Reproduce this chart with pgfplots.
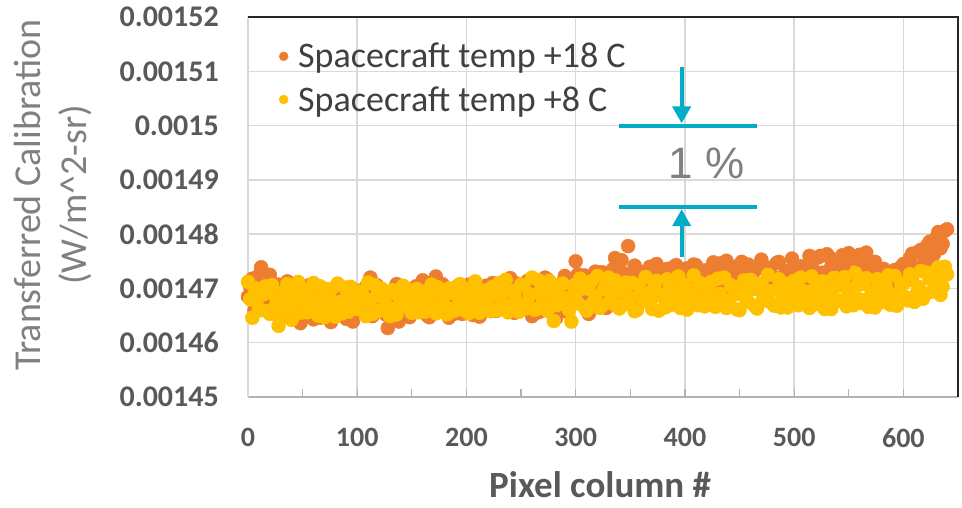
\documentclass[border=0pt]{standalone}
\usepackage{fontspec}
\setmainfont{Carlito}
\newfontfamily\arialfont{Liberation Sans}
\usepackage{pgfplots}
\pgfplotsset{compat=1.18}
\usetikzlibrary{arrows.meta}
\definecolor{sporange}{HTML}{ED7D31}
\definecolor{spgold}{HTML}{FFC000}
\definecolor{callout}{HTML}{00ACC8}
\definecolor{ticktext}{HTML}{595959}
\definecolor{labeltext}{HTML}{808080}
\definecolor{legendtext}{HTML}{404040}
\definecolor{gridgray}{HTML}{D9D9D9}

\begin{document}
\begin{tikzpicture}
\useasboundingbox (-248pt,-110pt) rectangle (714pt,397pt);
\begin{axis}[
  at={(0pt,0pt)}, anchor=south west,
  scale only axis, width=710pt, height=380pt,
  xmin=0, xmax=650, ymin=0.00145, ymax=0.00152,
  clip=false,
  xtick={0,100,...,600}, xticklabels={0,100,200,300,400,500,600},
  minor x tick num=1,
  ytick={0.00145,0.00146,0.00147,0.00148,0.00149,0.0015,0.00151,0.00152},
  yticklabels={0.00145,0.00146,0.00147,0.00148,0.00149,0.0015,0.00151,0.00152},
  scaled y ticks=false,
  axis x line*=bottom, axis y line*=left,
  x axis line style={draw=black!30, line width=1.5pt, -},
  y axis line style={draw=gridgray, line width=1.5pt, -},
  xtick align=inside,
  xtick style={draw=black!30, line width=1.2pt},
  minor x tick style={draw=black!30, line width=1.2pt},
  ytick style={draw=none},
  major tick length=8pt, minor tick length=8pt,
  grid=major, major grid style={gridgray, line width=1.5pt},
  tick label style={font=\fontsize{28}{32}\selectfont\bfseries, text=ticktext},
  yticklabel style={anchor=east, inner sep=0pt, xshift=-29pt, font=\fontsize{30}{34}\selectfont\bfseries},
  xticklabel style={anchor=north, inner sep=0pt, yshift=-31pt},
  xlabel={Pixel column \#},
  xlabel style={at={(axis description cs:0.496,0)}, anchor=center, yshift=-88pt,
    font=\fontsize{37}{42}\selectfont\bfseries, text=ticktext},
  ylabel={Transferred Calibration\\(W/m\textasciicircum 2-sr)},
  ylabel style={at={(axis description cs:-0.2746,0.5316)}, anchor=center, align=center,
    font=\fontsize{38}{46}\selectfont, text=labeltext},
  legend cell align=left,
  legend image code/.code={\draw[mark repeat=2,mark phase=2,#1,mark size=4.5pt] plot coordinates {(0pt,0pt) (9pt,0pt) (18pt,0pt)};},
  legend style={at={(axis description cs:0,1)}, anchor=north west, xshift=31pt, yshift=-24pt,
    draw=none, fill=none, font=\fontsize{36}{42}\selectfont, text=legendtext, inner sep=0pt,
    row sep=13pt, column sep=8pt},
]
\addplot[only marks, mark=*, mark size=7pt, mark options={draw=sporange, fill=sporange}] coordinates {
(0,0.0014685) (4,0.0014718) (8,0.0014662) (12,0.0014739) (16,0.0014690) (20,0.0014725) (24,0.0014654) (28,0.0014707)
(32,0.0014671) (36,0.0014713) (40,0.0014645) (44,0.0014694) (48,0.0014636) (52,0.0014678) (56,0.0014706) (60,0.0014643)
(64,0.0014689) (68,0.0014660) (72,0.0014698) (76,0.0014638) (80,0.0014673) (84,0.0014701) (88,0.0014652) (92,0.0014684)
(96,0.0014639) (100,0.0014696) (104,0.0014668) (108,0.0014703) (112,0.0014720) (116,0.0014687) (120,0.0014664) (124,0.0014692)
(128,0.0014627) (132,0.0014676) (136,0.0014708) (140,0.0014656) (144,0.0014683) (148,0.0014647) (152,0.0014699) (156,0.0014669)
(160,0.0014715) (164,0.0014650) (168,0.0014686) (172,0.0014722) (176,0.0014662) (180,0.0014691) (184,0.0014646) (188,0.0014680)
(192,0.0014704) (196,0.0014653) (200,0.0014688) (204,0.0014665) (208,0.0014709) (212,0.0014648) (216,0.0014693) (220,0.0014674)
(224,0.0014710) (228,0.0014659) (232,0.0014697) (236,0.0014668) (240,0.0014719) (244,0.0014655) (248,0.0014690) (252,0.0014672)
(256,0.0014714) (260,0.0014649) (264,0.0014698) (268,0.0014670) (272,0.0014720) (276,0.0014658) (280,0.0014702) (284,0.0014681)
(288,0.0014711) (292,0.0014657) (296,0.0014695) (300,0.0014750) (304,0.0014676) (308,0.0014724) (312,0.0014653) (316,0.0014703)
(320,0.0014682) (324,0.0014730) (328,0.0014664) (332,0.0014716) (336,0.0014756) (340,0.0014692) (344,0.0014728) (348,0.0014778)
(352,0.0014700) (356,0.0014735) (360,0.0014678) (364,0.0014719) (368,0.0014740) (372,0.0014694) (376,0.0014727) (380,0.0014685)
(384,0.0014736) (388,0.0014708) (392,0.0014743) (396,0.0014689) (400,0.0014725) (404,0.0014701) (408,0.0014744) (412,0.0014683)
(416,0.0014721) (420,0.0014706) (424,0.0014738) (428,0.0014690) (432,0.0014746) (436,0.0014712) (440,0.0014687) (444,0.0014732)
(448,0.0014704) (452,0.0014749) (456,0.0014695) (460,0.0014726) (464,0.0014700) (468,0.0014741) (472,0.0014688) (476,0.0014735)
(480,0.0014710) (484,0.0014747) (488,0.0014696) (492,0.0014729) (496,0.0014705) (500,0.0014743) (504,0.0014684) (508,0.0014731)
(512,0.0014709) (516,0.0014750) (520,0.0014718) (524,0.0014760) (528,0.0014724) (532,0.0014758) (536,0.0014702) (540,0.0014746)
(544,0.0014761) (548,0.0014715) (552,0.0014754) (556,0.0014728) (560,0.0014762) (564,0.0014719) (568,0.0014748) (572,0.0014707)
(576,0.0014739) (580,0.0014712) (584,0.0014730) (588,0.0014698) (592,0.0014734) (596,0.0014716) (600,0.0014745) (604,0.0014723)
(608,0.0014764) (612,0.0014738) (616,0.0014771) (620,0.0014749) (624,0.0014786) (628,0.0014763) (632,0.0014804) (636,0.0014782)
(640,0.0014809)
(2,0.0014703) (6,0.0014660) (10,0.0014724) (14,0.0014681) (18,0.0014715) (22,0.0014669) (26,0.0014698) (30,0.0014648)
(34,0.0014686) (38,0.0014709) (42,0.0014665) (46,0.0014691) (50,0.0014650) (54,0.0014682) (58,0.0014664) (62,0.0014702)
(66,0.0014646) (70,0.0014679) (74,0.0014653) (78,0.0014694) (82,0.0014661) (86,0.0014687) (90,0.0014644) (94,0.0014700)
(98,0.0014672) (102,0.0014657) (106,0.0014695) (110,0.0014675) (114,0.0014649) (118,0.0014706) (122,0.0014670) (126,0.0014652)
(130,0.0014684) (134,0.0014666) (138,0.0014639) (142,0.0014693) (146,0.0014678) (150,0.0014656) (154,0.0014704) (158,0.0014663)
(162,0.0014689) (166,0.0014647) (170,0.0014697) (174,0.0014671) (178,0.0014708) (182,0.0014660) (186,0.0014685) (190,0.0014654)
(194,0.0014696) (198,0.0014673) (202,0.0014707) (206,0.0014651) (210,0.0014688) (214,0.0014667) (218,0.0014705) (222,0.0014676)
(226,0.0014659) (230,0.0014692) (234,0.0014712) (238,0.0014662) (242,0.0014684) (246,0.0014709) (250,0.0014668) (254,0.0014695)
(258,0.0014674) (262,0.0014713) (266,0.0014656) (270,0.0014690) (274,0.0014717) (278,0.0014673) (282,0.0014645) (286,0.0014698)
(290,0.0014723) (294,0.0014670) (298,0.0014701) (302,0.0014726) (306,0.0014684) (310,0.0014709) (314,0.0014662) (318,0.0014731)
(322,0.0014697) (326,0.0014718) (330,0.0014680) (334,0.0014735) (338,0.0014706) (342,0.0014752) (346,0.0014721) (350,0.0014693)
(354,0.0014742) (358,0.0014714) (362,0.0014730) (366,0.0014698) (370,0.0014729) (374,0.0014745) (378,0.0014707) (382,0.0014734)
(386,0.0014711) (390,0.0014740) (394,0.0014722) (398,0.0014695) (402,0.0014737) (406,0.0014715) (410,0.0014743) (414,0.0014702)
(418,0.0014733) (422,0.0014719) (426,0.0014748) (430,0.0014708) (434,0.0014730) (438,0.0014751) (442,0.0014713) (446,0.0014740)
(450,0.0014725) (454,0.0014701) (458,0.0014744) (462,0.0014717) (466,0.0014736) (470,0.0014753) (474,0.0014710) (478,0.0014738)
(482,0.0014720) (486,0.0014749) (490,0.0014706) (494,0.0014732) (498,0.0014755) (502,0.0014718) (506,0.0014741) (510,0.0014726)
(514,0.0014760) (518,0.0014733) (522,0.0014757) (526,0.0014729) (530,0.0014763) (534,0.0014740) (538,0.0014716) (542,0.0014752)
(546,0.0014735) (550,0.0014765) (554,0.0014724) (558,0.0014759) (562,0.0014743) (566,0.0014766) (570,0.0014725) (574,0.0014749)
(578,0.0014719) (582,0.0014736) (586,0.0014709) (590,0.0014731) (594,0.0014715) (598,0.0014740) (602,0.0014727) (606,0.0014756)
(610,0.0014734) (614,0.0014768) (618,0.0014745) (622,0.0014780) (626,0.0014756) (630,0.0014793) (634,0.0014774) (638,0.0014806)};
\addlegendentry{Spacecraft temp +18 C}
\addplot[only marks, mark=*, mark size=7pt, mark options={draw=spgold, fill=spgold}] coordinates {
(0,0.0014712) (4,0.0014646) (8,0.0014683) (12,0.0014660) (16,0.0014704) (20,0.0014653) (24,0.0014689) (28,0.0014631)
(32,0.0014674) (36,0.0014708) (40,0.0014642) (44,0.0014679) (48,0.0014655) (52,0.0014696) (56,0.0014664) (60,0.0014710)
(64,0.0014650) (68,0.0014682) (72,0.0014667) (76,0.0014699) (80,0.0014648) (84,0.0014675) (88,0.0014702) (92,0.0014657)
(96,0.0014686) (100,0.0014662) (104,0.0014693) (108,0.0014649) (112,0.0014678) (116,0.0014706) (120,0.0014659) (124,0.0014684)
(128,0.0014665) (132,0.0014697) (136,0.0014652) (140,0.0014680) (144,0.0014701) (148,0.0014663) (152,0.0014688) (156,0.0014656)
(160,0.0014694) (164,0.0014670) (168,0.0014707) (172,0.0014654) (176,0.0014681) (180,0.0014668) (184,0.0014700) (188,0.0014658)
(192,0.0014687) (196,0.0014661) (200,0.0014698) (204,0.0014672) (208,0.0014713) (212,0.0014655) (216,0.0014685) (220,0.0014666)
(224,0.0014703) (228,0.0014660) (232,0.0014691) (236,0.0014716) (240,0.0014664) (244,0.0014689) (248,0.0014657) (252,0.0014705)
(256,0.0014673) (260,0.0014720) (264,0.0014662) (268,0.0014695) (272,0.0014676) (276,0.0014714) (280,0.0014640) (284,0.0014686)
(288,0.0014709) (292,0.0014667) (296,0.0014639) (300,0.0014692) (304,0.0014718) (308,0.0014665) (312,0.0014699) (316,0.0014674)
(320,0.0014723) (324,0.0014668) (328,0.0014704) (332,0.0014680) (336,0.0014715) (340,0.0014663) (344,0.0014696) (348,0.0014671)
(352,0.0014710) (356,0.0014660) (360,0.0014693) (364,0.0014721) (368,0.0014675) (372,0.0014702) (376,0.0014659) (380,0.0014688)
(384,0.0014717) (388,0.0014670) (392,0.0014699) (396,0.0014664) (400,0.0014706) (404,0.0014682) (408,0.0014724) (412,0.0014669)
(416,0.0014695) (420,0.0014677) (424,0.0014712) (428,0.0014666) (432,0.0014690) (436,0.0014720) (440,0.0014674) (444,0.0014701)
(448,0.0014661) (452,0.0014697) (456,0.0014679) (460,0.0014716) (464,0.0014668) (468,0.0014704) (472,0.0014683) (476,0.0014725)
(480,0.0014672) (484,0.0014698) (488,0.0014665) (492,0.0014709) (496,0.0014681) (500,0.0014714) (504,0.0014669) (508,0.0014696)
(512,0.0014676) (516,0.0014722) (520,0.0014684) (524,0.0014707) (528,0.0014662) (532,0.0014693) (536,0.0014719) (540,0.0014678)
(544,0.0014705) (548,0.0014667) (552,0.0014699) (556,0.0014728) (560,0.0014680) (564,0.0014708) (568,0.0014666) (572,0.0014694)
(576,0.0014717) (580,0.0014675) (584,0.0014702) (588,0.0014670) (592,0.0014723) (596,0.0014686) (600,0.0014709) (604,0.0014678)
(608,0.0014715) (612,0.0014690) (616,0.0014732) (620,0.0014689) (624,0.0014718) (628,0.0014696) (632,0.0014739) (636,0.0014703)
(640,0.0014726)
(2,0.0014680) (6,0.0014701) (10,0.0014663) (14,0.0014689) (18,0.0014658) (22,0.0014706) (26,0.0014672) (30,0.0014651)
(34,0.0014696) (38,0.0014667) (42,0.0014690) (46,0.0014712) (50,0.0014675) (54,0.0014656) (58,0.0014684) (62,0.0014661)
(66,0.0014704) (70,0.0014647) (74,0.0014688) (78,0.0014669) (82,0.0014709) (86,0.0014654) (90,0.0014681) (94,0.0014703)
(98,0.0014666) (102,0.0014694) (106,0.0014673) (110,0.0014711) (114,0.0014653) (118,0.0014686) (122,0.0014700) (126,0.0014670)
(130,0.0014649) (134,0.0014691) (138,0.0014668) (142,0.0014705) (146,0.0014677) (150,0.0014655) (154,0.0014699) (158,0.0014674)
(162,0.0014657) (166,0.0014685) (170,0.0014660) (174,0.0014702) (178,0.0014679) (182,0.0014652) (186,0.0014692) (190,0.0014665)
(194,0.0014708) (198,0.0014678) (202,0.0014654) (206,0.0014683) (210,0.0014701) (214,0.0014669) (218,0.0014696) (222,0.0014658)
(226,0.0014687) (230,0.0014710) (234,0.0014671) (238,0.0014656) (242,0.0014695) (246,0.0014676) (250,0.0014707) (254,0.0014663)
(258,0.0014689) (262,0.0014661) (266,0.0014715) (270,0.0014679) (274,0.0014659) (278,0.0014698) (282,0.0014669) (286,0.0014706)
(290,0.0014682) (294,0.0014660) (298,0.0014704) (302,0.0014673) (306,0.0014700) (310,0.0014659) (314,0.0014713) (318,0.0014685)
(322,0.0014664) (326,0.0014699) (330,0.0014720) (334,0.0014672) (338,0.0014694) (342,0.0014669) (346,0.0014711) (350,0.0014683)
(354,0.0014658) (358,0.0014705) (362,0.0014676) (366,0.0014691) (370,0.0014662) (374,0.0014714) (378,0.0014686) (382,0.0014665)
(386,0.0014700) (390,0.0014679) (394,0.0014722) (398,0.0014688) (402,0.0014661) (406,0.0014697) (410,0.0014674) (414,0.0014710)
(418,0.0014667) (422,0.0014693) (426,0.0014670) (430,0.0014718) (434,0.0014681) (438,0.0014664) (442,0.0014706) (446,0.0014689)
(450,0.0014660) (454,0.0014715) (458,0.0014675) (462,0.0014699) (466,0.0014663) (470,0.0014709) (474,0.0014678) (478,0.0014695)
(482,0.0014668) (486,0.0014717) (490,0.0014685) (494,0.0014665) (498,0.0014702) (502,0.0014679) (506,0.0014720) (510,0.0014683)
(514,0.0014664) (518,0.0014698) (522,0.0014671) (526,0.0014713) (530,0.0014687) (534,0.0014662) (538,0.0014704) (542,0.0014677)
(546,0.0014721) (550,0.0014690) (554,0.0014669) (558,0.0014706) (562,0.0014673) (566,0.0014719) (570,0.0014686) (574,0.0014665)
(578,0.0014696) (582,0.0014679) (586,0.0014724) (590,0.0014688) (594,0.0014668) (598,0.0014705) (602,0.0014684) (606,0.0014726)
(610,0.0014675) (614,0.0014703) (618,0.0014681) (622,0.0014729) (626,0.0014694) (630,0.0014716) (634,0.0014688) (638,0.0014740)};
\addlegendentry{Spacecraft temp +8 C}
% frame on top and right
\draw[black!85, line width=1.5pt] (rel axis cs:0,1) -- (rel axis cs:1,1) -- (rel axis cs:1,0);
% 1 % callout
\draw[callout, line width=4pt] (axis cs:340,0.0015) -- (axis cs:466,0.0015);
\draw[callout, line width=4pt] (axis cs:340,0.001485) -- (axis cs:466,0.001485);
\draw[callout, line width=4pt, -{Triangle[width=18pt,length=17pt]}] (axis cs:397,0.0015108) -- (axis cs:397,0.0015004);
\draw[callout, line width=4pt, -{Triangle[width=18pt,length=17pt]}] (axis cs:397,0.0014757) -- (axis cs:397,0.0014846);
\node[font=\arialfont\fontsize{44}{50}\selectfont, text=labeltext] at (axis cs:420,0.0014931) {1 \%};
\end{axis}
\end{tikzpicture}
\end{document}
